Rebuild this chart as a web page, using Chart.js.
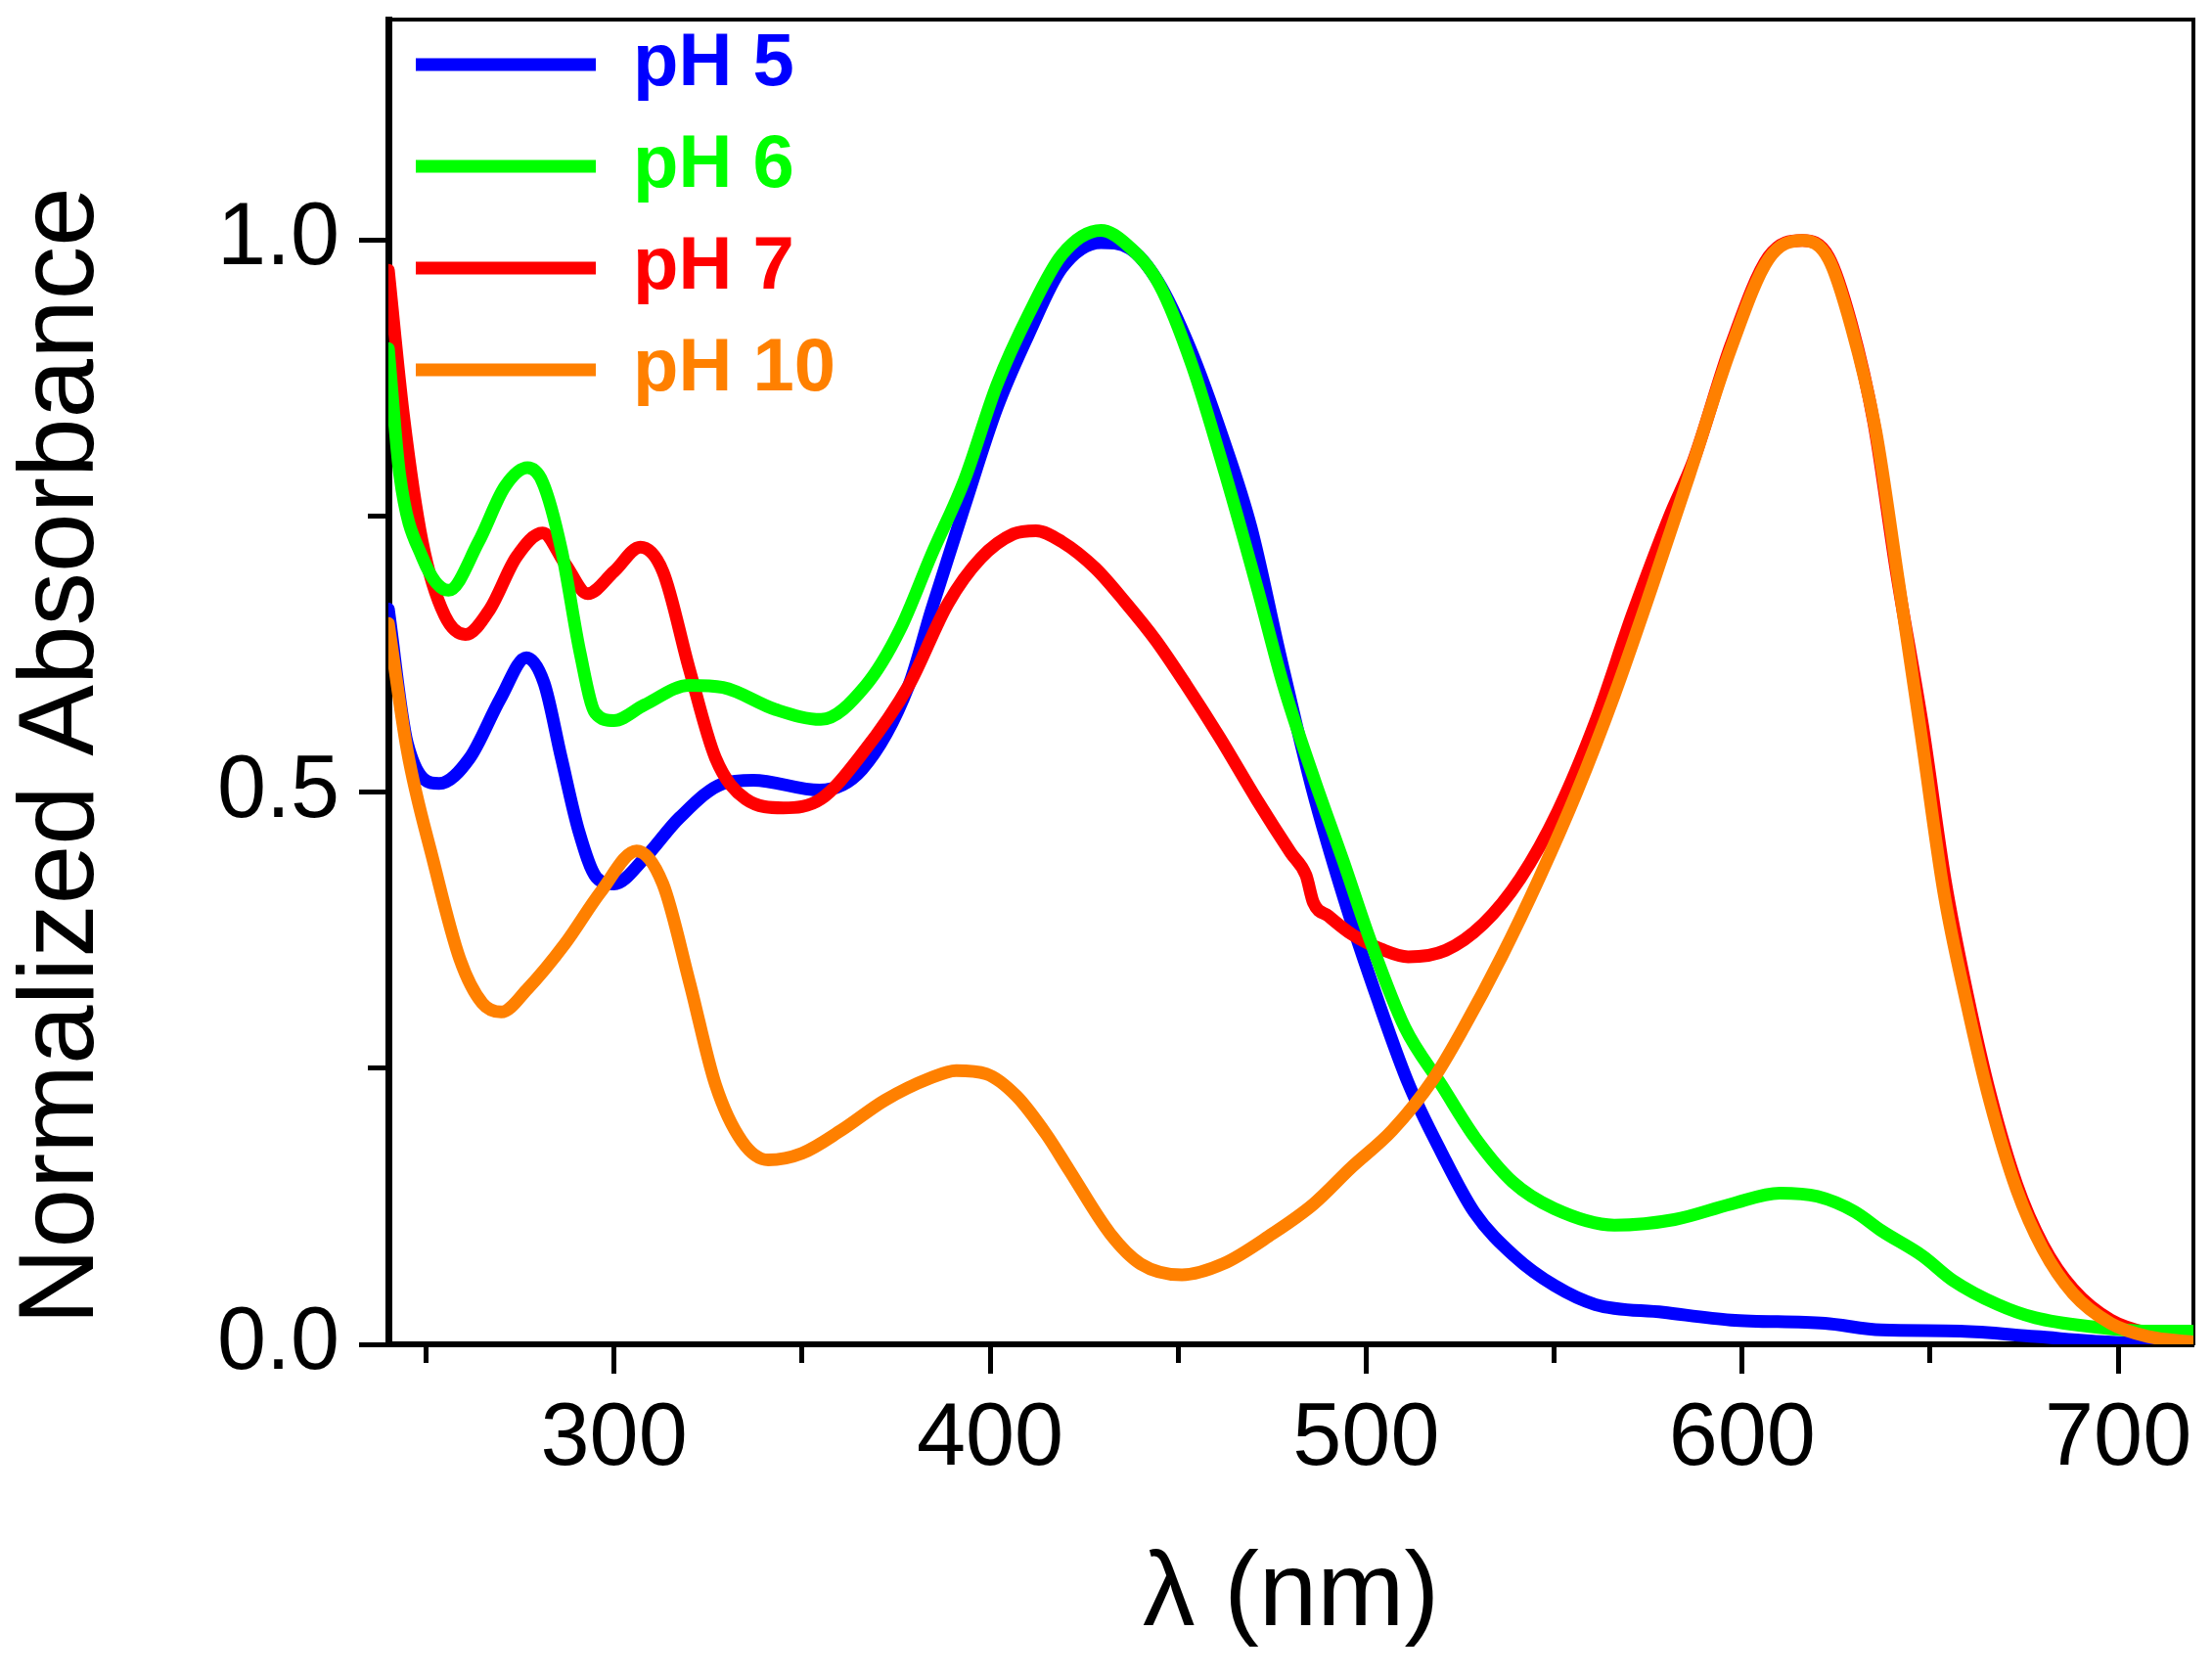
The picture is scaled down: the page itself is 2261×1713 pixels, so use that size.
<!DOCTYPE html>
<html>
<head>
<meta charset="utf-8">
<title>Normalized Absorbance vs wavelength</title>
<script src="https://cdn.jsdelivr.net/npm/chart.js@4"></script>
<style>
    body { margin: 0; background: #fff; }
    #wrap { width: 2261px; height: 1713px; }
</style>
</head>
<body>
<div id="wrap"><canvas id="absChart" width="2261" height="1713"></canvas></div>
<script>
// series labels and colours
const seriesNames = ['pH 5', 'pH 6', 'pH 7', 'pH 10'];
const seriesColors = ['#0000ff', '#00ff00', '#ff0000', '#ff8000'];

// pH 5 (blue)
const pH5Wl = [240, 245, 253.5, 261.6, 269.8, 276.7, 281.4, 286, 290.7, 295.3, 300, 308, 317.4, 329, 337, 354.7, 366, 378.4, 384.4, 393.2, 401.8, 410.4, 419.1, 429.5, 437, 444.6, 453.2, 461.9, 469.4, 477, 485.6, 494.2, 503.3, 511.4, 520, 528.7, 539.4, 550.2, 561, 579, 597, 622, 637, 658, 678, 698, 720];
const pH5Abs = [0.666, 0.545, 0.508, 0.531, 0.585, 0.622, 0.599, 0.531, 0.464, 0.423, 0.417, 0.44, 0.477, 0.508, 0.511, 0.502, 0.521, 0.597, 0.665, 0.759, 0.848, 0.916, 0.975, 0.998, 0.993, 0.963, 0.902, 0.821, 0.74, 0.626, 0.504, 0.403, 0.31, 0.235, 0.174, 0.12, 0.08, 0.053, 0.036, 0.029, 0.022, 0.019, 0.013, 0.012, 0.007, 0.002, 0.0];

// pH 6 (green)
const pH6Wl = [240, 243, 249, 256, 264, 271, 277, 281, 286, 291, 295, 300, 308, 320, 329, 343, 355, 367, 376, 384.4, 393.2, 401.8, 410.4, 419.1, 429.5, 436.4, 445, 453.8, 462.5, 471, 478, 486.4, 494, 501.3, 510.3, 520, 529, 539, 550, 566, 582, 597, 610, 620, 630, 637, 648, 656, 668, 678, 693, 708, 720];
const pH6Abs = [0.902, 0.788, 0.713, 0.683, 0.727, 0.777, 0.794, 0.781, 0.72, 0.626, 0.572, 0.565, 0.579, 0.597, 0.595, 0.575, 0.566, 0.597, 0.647, 0.715, 0.783, 0.869, 0.934, 0.987, 1.009, 0.996, 0.96, 0.886, 0.789, 0.686, 0.597, 0.51, 0.437, 0.364, 0.287, 0.235, 0.187, 0.147, 0.123, 0.108, 0.113, 0.127, 0.137, 0.134, 0.12, 0.103, 0.08, 0.058, 0.036, 0.024, 0.016, 0.012, 0.012];

// pH 7 (red)
const pH7Wl = [240, 244, 249, 255, 260.5, 267, 274, 281, 287, 293, 300, 307, 313, 320, 327, 335, 345, 355, 366, 378.4, 388.8, 397.5, 406.2, 412.2, 419.1, 428, 436, 444, 452, 461, 471, 480, 484, 486, 490, 496.4, 504, 511.2, 521.2, 531.2, 541, 551, 561, 570.9, 580.8, 587, 597, 607, 616, 623, 629, 635, 641, 648, 654, 660, 666, 673, 680, 688, 698, 708, 720];
const pH7Abs = [0.973, 0.842, 0.727, 0.66, 0.643, 0.666, 0.713, 0.735, 0.707, 0.68, 0.70, 0.722, 0.70, 0.612, 0.531, 0.494, 0.486, 0.494, 0.535, 0.597, 0.671, 0.712, 0.734, 0.737, 0.727, 0.703, 0.672, 0.638, 0.598, 0.55, 0.493, 0.445, 0.425, 0.40, 0.388, 0.371, 0.358, 0.351, 0.357, 0.381, 0.422, 0.483, 0.564, 0.662, 0.751, 0.80, 0.905, 0.985, 1.0, 0.985, 0.925, 0.835, 0.70, 0.56, 0.42, 0.315, 0.226, 0.145, 0.09, 0.05, 0.022, 0.01, 0.005];

// pH 10 (orange)
const pH10Wl = [240, 245, 252, 259, 265, 270, 277, 287, 296.5, 306, 313, 320, 327, 334, 341, 350, 360.5, 372, 384, 391, 399, 407, 415, 421, 432, 440, 451, 462, 475, 486, 496, 507, 518, 526, 536, 546, 556, 566, 576, 586, 597, 607, 616, 623, 629, 635.5, 641.5, 647.6, 653.6, 659.7, 665.8, 673, 680, 688, 698, 708, 720];
const pH10Abs = [0.653, 0.538, 0.437, 0.349, 0.309, 0.301, 0.322, 0.363, 0.41, 0.447, 0.417, 0.329, 0.235, 0.184, 0.167, 0.173, 0.194, 0.221, 0.241, 0.248, 0.245, 0.225, 0.19, 0.158, 0.10, 0.073, 0.063, 0.073, 0.10, 0.127, 0.16, 0.194, 0.241, 0.287, 0.351, 0.422, 0.50, 0.588, 0.686, 0.788, 0.902, 0.983, 1.0, 0.983, 0.922, 0.828, 0.693, 0.552, 0.41, 0.309, 0.221, 0.14, 0.086, 0.046, 0.019, 0.007, 0.002];

// axis ranges and labelled ticks
const xMin = 240, xMax = 720, xStep = 50;
const yMin = 0, yMax = 1.2, yStep = 0.25;
const xLabelTicks = [300, 400, 500, 600, 700];
const yLabelTicks = [0, 0.5, 1.0];

const wlSets = [pH5Wl, pH6Wl, pH7Wl, pH10Wl];
const absSets = [pH5Abs, pH6Abs, pH7Abs, pH10Abs];
const drawOrder = [4, 2, 3, 1]; // orange on top

const datasets = seriesNames.map((name, i) => ({
    label: name,
    data: wlSets[i].map((wl, k) => ({ x: wl, y: absSets[i][k] })),
    borderColor: seriesColors[i],
    backgroundColor: seriesColors[i],
    borderWidth: 13,
    borderCapStyle: 'round',
    borderJoinStyle: 'round',
    pointRadius: 0,
    cubicInterpolationMode: 'monotone',
    order: drawOrder[i],
}));

const fontFamily = 'Liberation Sans, Arial, sans-serif';
const tickFont = { family: fontFamily, size: 90 };
const isLabelled = (list, v) => list.some(t => Math.abs(t - v) < 1e-6);

const ctx = document.getElementById('absChart').getContext('2d');
new Chart(ctx, {
    type: 'line',
    data: { datasets: datasets },
    plugins: [{
        id: 'whiteBg',
        beforeDraw(chart) {
            const c = chart.ctx;
            c.save();
            c.fillStyle = '#fff';
            c.fillRect(0, 0, chart.width, chart.height);
            c.restore();
        }
    }],
    options: {
        responsive: false,
        devicePixelRatio: 1,
        animation: false,
        layout: { padding: { top: 20, right: 19, left: 0, bottom: 0 } },
        plugins: {
            tooltip: { enabled: false },
            legend: {
                position: 'chartArea',
                align: 'start',
                labels: {
                    usePointStyle: true,
                    pointStyle: 'line',
                    pointStyleWidth: 184,
                    padding: 28,
                    font: { family: fontFamily, size: 76, weight: 'bold' },
                    sort: (a, b) => a.datasetIndex - b.datasetIndex,
                    generateLabels(chart) {
                        const items = Chart.defaults.plugins.legend.labels.generateLabels(chart);
                        items.forEach(item => {
                            item.fontColor = seriesColors[item.datasetIndex];
                            item.pointStyle = 'line';
                        });
                        return items;
                    },
                },
            },
        },
        scales: {
            x: {
                type: 'linear',
                position: 'bottom',
                min: xMin,
                max: xMax,
                afterFit(scale) {
                    scale.height = 339;
                    scale.paddingLeft = 0;
                    scale.paddingRight = 0;
                },
                ticks: {
                    stepSize: xStep,
                    includeBounds: false,
                    autoSkip: false,
                    maxRotation: 0,
                    padding: 14,
                    color: '#000',
                    font: tickFont,
                    callback: v => isLabelled(xLabelTicks, v) ? String(v) : '',
                },
                grid: {
                    drawOnChartArea: false,
                    drawTicks: true,
                    tickLength: 30,
                    tickWidth: 5,
                    tickColor: '#000',
                    tickBorderDash: c => (c.tick && !isLabelled(xLabelTicks, c.tick.value)) ? [16, 1000] : [],
                },
                border: { display: true, color: '#000', width: 6 },
                title: {
                    display: true,
                    text: 'λ (nm)',
                    color: '#000',
                    font: { family: fontFamily, size: 107 },
                    padding: { top: 0, bottom: 17 },
                },
            },
            y: {
                type: 'linear',
                position: 'left',
                min: yMin,
                max: yMax,
                afterFit(scale) {
                    scale.width = 397;
                    scale.paddingTop = 0;
                    scale.paddingBottom = 0;
                },
                ticks: {
                    stepSize: yStep,
                    includeBounds: false,
                    autoSkip: false,
                    padding: 20,
                    color: '#000',
                    font: tickFont,
                    callback: v => isLabelled(yLabelTicks, v) ? v.toFixed(1) : '',
                },
                grid: {
                    drawOnChartArea: false,
                    drawTicks: true,
                    tickLength: 30,
                    tickWidth: 5,
                    tickColor: '#000',
                    tickBorderDash: c => (c.tick && !isLabelled(yLabelTicks, c.tick.value)) ? [0, 9, 19, 1000] : [],
                },
                border: { display: true, color: '#000', width: 7 },
                title: {
                    display: true,
                    text: 'Normalized Absorbance     ',
                    color: '#000',
                    font: { family: fontFamily, size: 109 },
                    padding: { top: 0, bottom: 0 },
                },
            },
            xTop: {
                type: 'linear',
                axis: 'x',
                position: 'top',
                min: xMin,
                max: xMax,
                afterFit(scale) { scale.height = 0; },
                ticks: { display: false },
                grid: { drawOnChartArea: false, drawTicks: false },
                border: { display: true, color: '#000', width: 4 },
            },
            yRight: {
                type: 'linear',
                axis: 'y',
                position: 'right',
                min: yMin,
                max: yMax,
                afterFit(scale) { scale.width = 0; },
                ticks: { display: false },
                grid: { drawOnChartArea: false, drawTicks: false },
                border: { display: true, color: '#000', width: 4 },
            },
        },
    },
});
</script>
</body>
</html>
